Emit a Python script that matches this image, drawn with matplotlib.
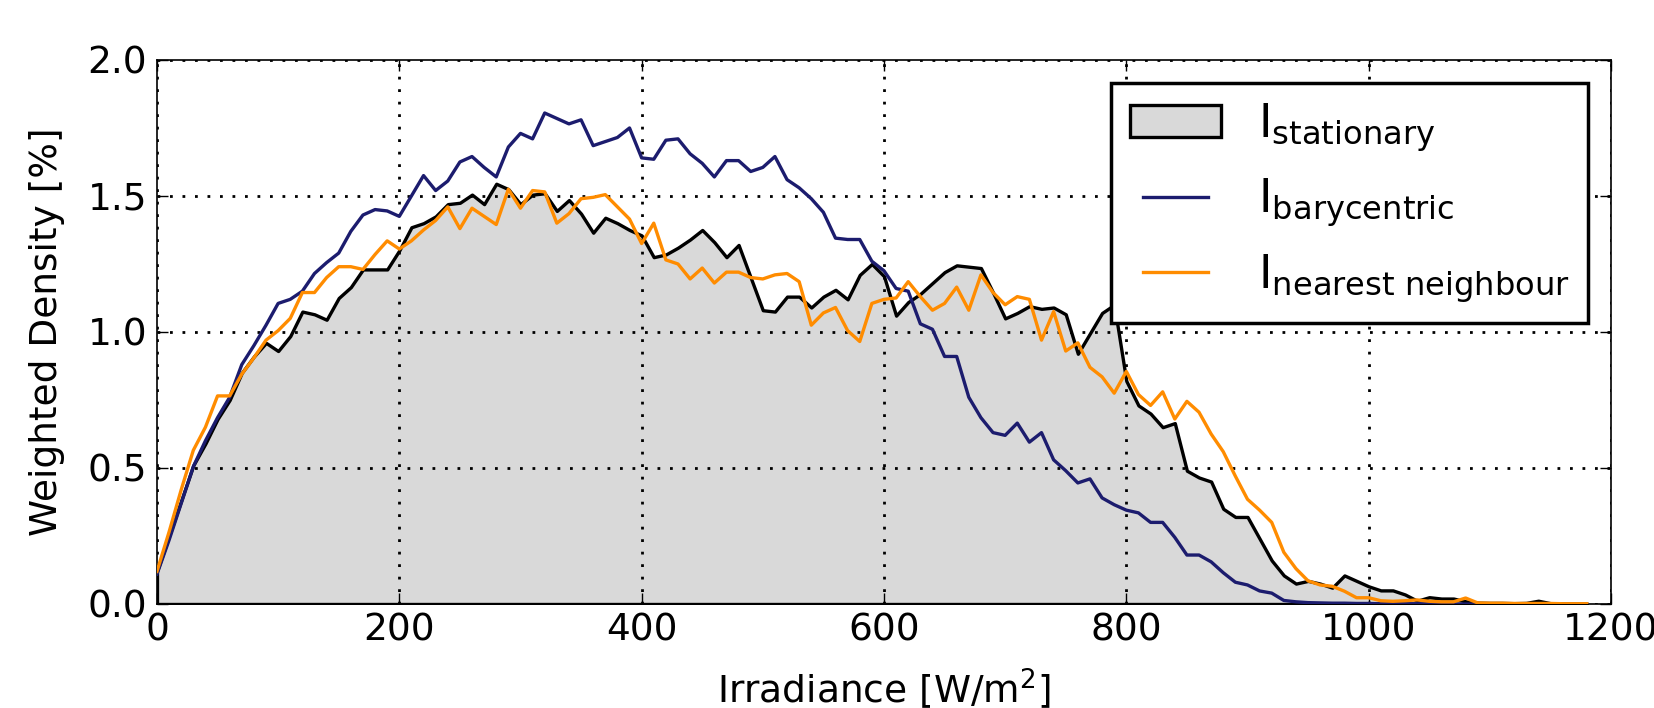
import numpy as np
from matplotlib import pyplot as plt

# irradiance bins [W/m^2]
irradiance = np.arange(0, 1190, 10)

stationary = [0.12, 0.25, 0.38, 0.51, 0.59, 0.68, 0.75, 0.85, 0.91, 0.96,
              0.93, 0.985, 1.075, 1.065, 1.045, 1.125, 1.165, 1.23, 1.23, 1.23,
              1.30, 1.385, 1.40, 1.425, 1.47, 1.475, 1.505, 1.47, 1.545, 1.525,
              1.47, 1.505, 1.51, 1.445, 1.485, 1.435, 1.365, 1.42, 1.40, 1.375,
              1.355, 1.275, 1.285, 1.31, 1.34, 1.375, 1.33, 1.275, 1.32, 1.20,
              1.08, 1.075, 1.13, 1.13, 1.09, 1.13, 1.155, 1.12, 1.21, 1.25,
              1.205, 1.06, 1.11, 1.14, 1.18, 1.22, 1.245, 1.24, 1.235, 1.145,
              1.05, 1.07, 1.095, 1.085, 1.09, 1.065, 0.92, 0.995, 1.07, 1.10,
              0.82, 0.73, 0.70, 0.65, 0.665, 0.49, 0.465, 0.45, 0.35, 0.32,
              0.32, 0.24, 0.16, 0.105, 0.075, 0.085, 0.075, 0.06, 0.105, 0.085,
              0.065, 0.05, 0.05, 0.035, 0.012, 0.025, 0.02, 0.02, 0.01, 0.005,
              0.004, 0.004, 0.003, 0.004, 0.012, 0.003, 0.002, 0.002, 0.001]

barycentric = [0.11, 0.235, 0.37, 0.505, 0.60, 0.685, 0.76, 0.88, 0.95, 1.025,
               1.105, 1.12, 1.15, 1.215, 1.255, 1.29, 1.37, 1.43, 1.45, 1.445,
               1.425, 1.50, 1.575, 1.52, 1.555, 1.625, 1.645, 1.605, 1.57, 1.68,
               1.73, 1.71, 1.805, 1.785, 1.765, 1.78, 1.685, 1.70, 1.715, 1.75,
               1.64, 1.635, 1.705, 1.71, 1.655, 1.62, 1.57, 1.63, 1.63, 1.59,
               1.605, 1.645, 1.56, 1.53, 1.49, 1.44, 1.345, 1.34, 1.34, 1.26,
               1.225, 1.16, 1.15, 1.03, 1.01, 0.91, 0.91, 0.76, 0.685, 0.63,
               0.62, 0.665, 0.595, 0.63, 0.53, 0.49, 0.445, 0.46, 0.39, 0.365,
               0.345, 0.335, 0.30, 0.30, 0.245, 0.18, 0.18, 0.155, 0.115, 0.08,
               0.07, 0.048, 0.04, 0.013, 0.008, 0.005, 0.004, 0.003, 0.003, 0.002,
               0.002, 0.001, 0.001, 0.001, 0.001, 0.001, 0.0, 0.0, 0.0, 0.0,
               0.0, 0.0, 0.0, 0.0, 0.0, 0.0, 0.0, 0.0, 0.0]

nearest = [0.12, 0.265, 0.42, 0.565, 0.65, 0.765, 0.765, 0.845, 0.905, 0.97,
           1.005, 1.05, 1.145, 1.145, 1.20, 1.24, 1.24, 1.23, 1.285, 1.335,
           1.305, 1.335, 1.375, 1.41, 1.46, 1.38, 1.455, 1.425, 1.395, 1.525,
           1.455, 1.52, 1.515, 1.40, 1.435, 1.49, 1.495, 1.505, 1.46, 1.415,
           1.325, 1.40, 1.265, 1.25, 1.195, 1.235, 1.18, 1.22, 1.22, 1.20,
           1.195, 1.21, 1.215, 1.185, 1.025, 1.07, 1.09, 1.005, 0.965, 1.105,
           1.12, 1.125, 1.185, 1.13, 1.08, 1.105, 1.165, 1.08, 1.21, 1.145,
           1.10, 1.13, 1.12, 0.97, 1.075, 0.93, 0.96, 0.87, 0.835, 0.775,
           0.855, 0.77, 0.73, 0.78, 0.68, 0.745, 0.705, 0.625, 0.56, 0.47,
           0.385, 0.345, 0.30, 0.19, 0.13, 0.085, 0.07, 0.065, 0.047, 0.023,
           0.023, 0.012, 0.01, 0.012, 0.015, 0.01, 0.008, 0.008, 0.022, 0.004,
           0.003, 0.003, 0.002, 0.002, 0.002, 0.002, 0.001, 0.001, 0.001]

fig = plt.figure(figsize=(16.54, 7.08), dpi=100)
ax = fig.add_axes([0.0949, 0.1469, 0.8791, 0.7684])

ax.fill_between(irradiance, stationary, facecolor='0.85', edgecolor='k',
                linewidth=2.4, label=r'I$_{\mathrm{stationary}}$', zorder=2)
ax.plot(irradiance, barycentric, color='#1c1c6e', linewidth=2.4,
        label=r'I$_{\mathrm{barycentric}}$', zorder=3)
ax.plot(irradiance, nearest, color='#ff8c00', linewidth=2.4,
        label=r'I$_{\mathrm{nearest\ neighbour}}$', zorder=3)

ax.set_xlim(0, 1200)
ax.set_ylim(0, 2.0)
ax.set_xticks(np.arange(0, 1201, 200))
ax.set_yticks(np.arange(0, 2.01, 0.5))
ax.set_yticklabels(['%.1f' % v for v in np.arange(0, 2.01, 0.5)])

ax.grid(True, color='k', linestyle=(0, (1, 3.5)), linewidth=2)
ax.set_axisbelow(False)
ax.tick_params(direction='in', top=True, right=True, length=8, width=1,
               labelsize=27)
ax.tick_params(axis='x', pad=6)
ax.tick_params(axis='y', pad=7)
for sp in ax.spines.values():
    sp.set_linewidth(1.2)

ax.set_xlabel(r'Irradiance [W/m$^2$]', fontsize=27, labelpad=13)
ax.set_ylabel('Weighted Density [%]', fontsize=27, labelpad=16)

leg = ax.legend(loc='upper right', fontsize=33, numpoints=2, fancybox=False,
                framealpha=1, borderpad=0.4, handletextpad=0.8,
                labelspacing=0.5, handlelength=2.0, borderaxespad=0.5)
leg.get_frame().set_edgecolor('k')
leg.get_frame().set_linewidth(2.5)

plt.savefig('out.png', dpi=100)
